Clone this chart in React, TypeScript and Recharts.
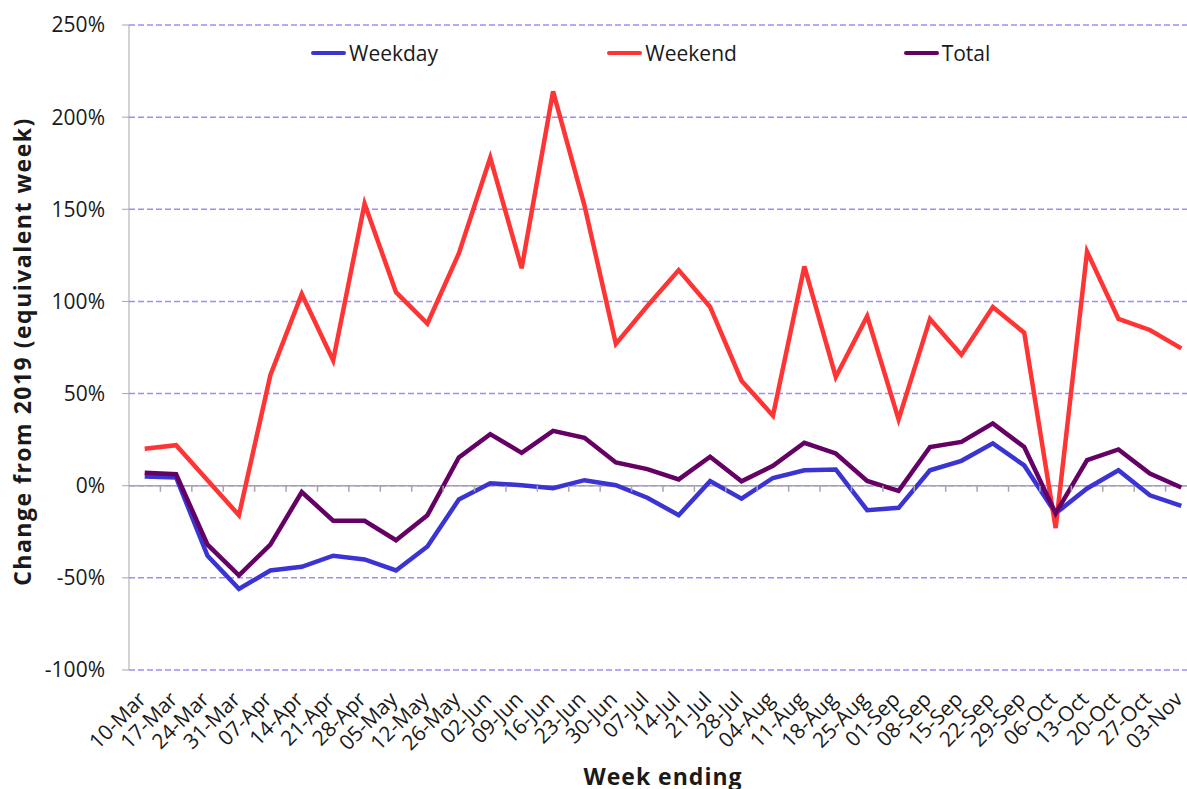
import { CartesianGrid, Label, Legend, Line, LineChart, ReferenceLine, XAxis, YAxis } from 'recharts'

const weeks = [
  '10-Mar', '17-Mar', '24-Mar', '31-Mar', '07-Apr', '14-Apr', '21-Apr', '28-Apr', '05-May', '12-May',
  '26-May', '02-Jun', '09-Jun', '16-Jun', '23-Jun', '30-Jun', '07-Jul', '14-Jul', '21-Jul', '28-Jul',
  '04-Aug', '11-Aug', '18-Aug', '25-Aug', '01-Sep', '08-Sep', '15-Sep', '22-Sep', '29-Sep', '06-Oct',
  '13-Oct', '20-Oct', '27-Oct', '03-Nov',
]

const weekday = [
  5, 4.5, -38, -56, -46, -44, -38, -40, -46, -33,
  -7.5, 1.3, 0.3, -1.4, 3, 0.3, -6.5, -16, 2.5, -7,
  4.2, 8.4, 8.8, -13.3, -12, 8.4, 13.5, 23, 11, -15,
  -1.5, 8.4, -5.2, -11,
]

const weekend = [
  20, 22, 3, -16, 60, 104, 68, 153, 105, 88,
  126, 178, 118, 214, 152, 77, 97.5, 117, 97, 57,
  38, 119, 59, 92, 36, 90.5, 71, 97, 83, -23,
  127, 90.5, 84.5, 74.5,
]

const total = [
  7, 6.2, -32, -48.6, -32, -3.4, -19, -19, -29.6, -16,
  15.3, 28, 17.8, 29.8, 26, 12.6, 9, 3.4, 15.7, 2.4,
  10.8, 23.3, 17.5, 2.6, -2.8, 21, 23.8, 33.8, 21, -15,
  13.9, 19.7, 6.6, -1,
]

const yTicks = [-100, -50, 0, 50, 100, 150, 200, 250]

const series = [
  { key: 'weekday', name: 'Weekday', color: '#3b34d2' },
  { key: 'weekend', name: 'Weekend', color: '#ff3434' },
  { key: 'total', name: 'Total', color: '#650065' },
]

const data = weeks.map((week, i) => ({ week, weekday: weekday[i], weekend: weekend[i], total: total[i] }))

const W = 1200
const H = 800
const M = { top: 25, right: 3, bottom: 0, left: 0 }
const Y_AXIS_W = 129
const X_AXIS_H = 130
const PLOT_W = W - M.left - M.right - Y_AXIS_W
const PLOT_H = H - M.top - M.bottom - X_AXIS_H
const BAND = PLOT_W / weeks.length
const ZERO_Y = M.top + (PLOT_H * 250) / 350
const AXIS_GREY = '#a6a6a6'
const TEXT = '#1a1a1a'

// excel-style: points sit mid-category, tick marks on the category boundaries (drawn on the 0% line)
function WeekTick({ x, y, payload, index }: any) {
  return (
    <g>
      {index > 0 && (
        <line x1={x - BAND / 2} x2={x - BAND / 2} y1={ZERO_Y} y2={ZERO_Y + 6} stroke={AXIS_GREY} strokeWidth={1.5} />
      )}
      <g transform={`translate(${x - 8},${y + 20})`}>
        <text transform="rotate(-45)" textAnchor="end" dy="0.72em" fontSize={21} fill={TEXT}>
          {payload.value}
        </text>
      </g>
    </g>
  )
}

function LegendRow() {
  return (
    <div style={{ display: 'flex', paddingLeft: 311 }}>
      {series.map((s) => (
        <div key={s.key} style={{ width: 311, display: 'flex', alignItems: 'center' }}>
          <span style={{ width: 35, height: 4.5, borderRadius: 2, background: s.color, marginRight: 3 }} />
          <span style={{ fontSize: 21, color: TEXT, lineHeight: '24px' }}>{s.name}</span>
        </div>
      ))}
    </div>
  )
}

export default function App() {
  return (
    <div
      style={{
        position: 'absolute',
        top: 0,
        left: 0,
        width: 1187,
        height: 789,
        overflow: 'hidden',
        background: '#fff',
        fontFamily: '"Open Sans", sans-serif',
      }}
    >
      <LineChart width={W} height={H} data={data} margin={M}>
        <CartesianGrid vertical={false} stroke="#a58af5" strokeDasharray="6 3" strokeWidth={1.5} />
        <XAxis
          dataKey="week"
          interval={0}
          height={X_AXIS_H}
          padding={{ left: BAND / 2, right: BAND / 2 }}
          axisLine={false}
          tickLine={false}
          tickSize={0}
          tickMargin={0}
          tick={<WeekTick />}
        >
          <Label
            content={({ viewBox }: any) => (
              <text
                x={viewBox.x + viewBox.width / 2}
                y={viewBox.y + 115}
                textAnchor="middle"
                fontSize={23}
                fontWeight="bold"
                letterSpacing={1}
                fill={TEXT}
              >
                Week ending
              </text>
            )}
          />
        </XAxis>
        <YAxis
          width={Y_AXIS_W}
          domain={[-100, 250]}
          ticks={yTicks}
          tickFormatter={(v) => `${v}%`}
          stroke={AXIS_GREY}
          tickSize={7}
          tickMargin={17}
          tick={{ fill: TEXT, fontSize: 21 }}
        >
          <Label
            content={({ viewBox }: any) => {
              const cy = viewBox.y + viewBox.height / 2 + 4
              return (
                <text
                  x={22}
                  y={cy}
                  transform={`rotate(-90, 22, ${cy})`}
                  textAnchor="middle"
                  dominantBaseline="central"
                  fontSize={23}
                  fontWeight="bold"
                  letterSpacing={1.5}
                  fill={TEXT}
                >
                  Change from 2019 (equivalent week)
                </text>
              )
            }}
          />
        </YAxis>
        <ReferenceLine y={0} stroke={AXIS_GREY} strokeWidth={1.5} />
        <Legend
          layout="horizontal"
          verticalAlign="middle"
          align="center"
          wrapperStyle={{ top: 41, left: 0, width: W }}
          content={<LegendRow />}
        />
        {series.map((s) => (
          <Line
            key={s.key}
            type="linear"
            dataKey={s.key}
            name={s.name}
            stroke={s.color}
            strokeWidth={4.5}
            dot={false}
            isAnimationActive={false}
          />
        ))}
      </LineChart>
    </div>
  )
}
